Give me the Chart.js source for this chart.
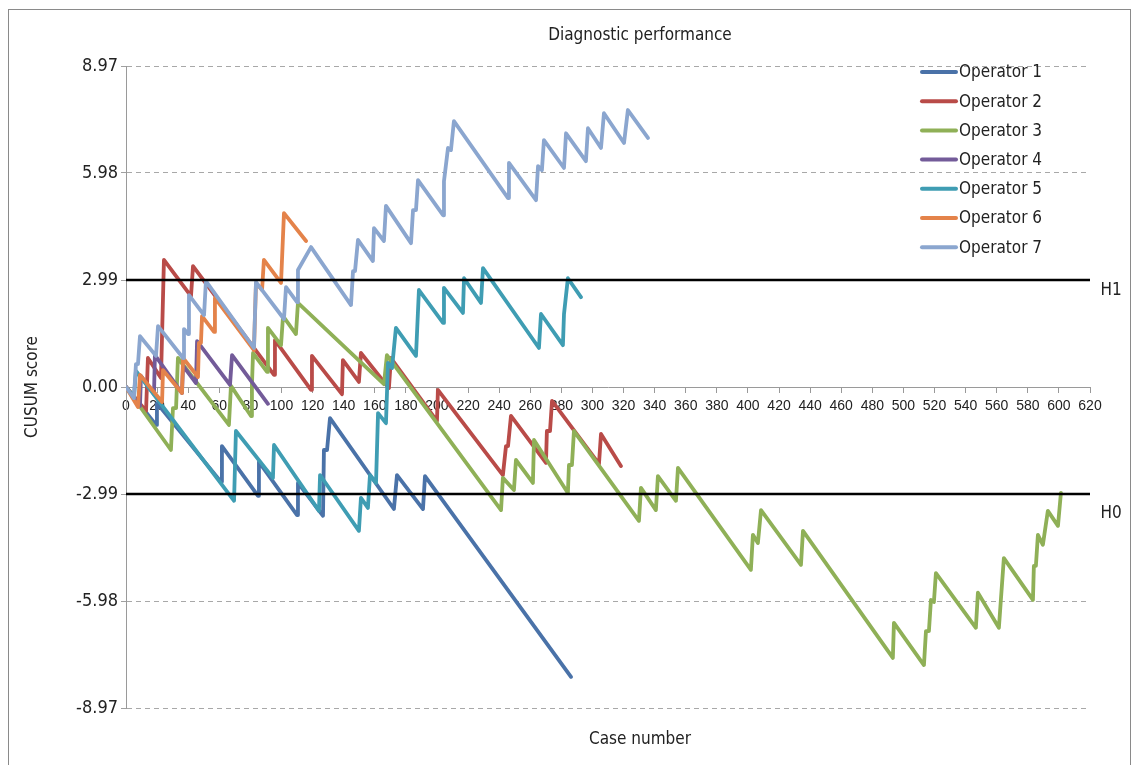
<!DOCTYPE html>
<html>
<head>
<meta charset="utf-8">
<title>Diagnostic performance</title>
<script src="https://cdn.jsdelivr.net/npm/chart.js@4.4.1/dist/chart.umd.min.js"></script>
<style>
    html, body { margin: 0; padding: 0; background: #fff; overflow: hidden; }
    #wrap { position: relative; width: 1137px; height: 765px; }
    #grafico { position: absolute; left: 0; top: 0; }
    #moldura { position: absolute; left: 8px; top: 9px; width: 1123px; height: 800px; border: 1.5px solid #8a8a8a; box-sizing: border-box; pointer-events: none; }
</style>
</head>
<body>
<div id="wrap">
    <canvas id="grafico" width="1137" height="765"></canvas>
    <div id="moldura"></div>
</div>
<script>
// Dados (número do caso, escore CUSUM) nos vértices de cada operador
const operadores = ['Operator 1', 'Operator 2', 'Operator 3', 'Operator 4', 'Operator 5', 'Operator 6', 'Operator 7'];
const cores = ['#4a72a8', '#b94b48', '#8fb057', '#735b99', '#3f9db3', '#e4834a', '#8ba6cf'];

const op1Casos = [0, 19.3, 19.9, 61.1, 61.7, 84.9, 85.5, 110.0, 110.6, 126.7, 127.3, 129.3, 131.2, 172.3, 174.3, 191.0, 192.3, 286.2];
const op1Cusum = [0, -1.06, -0.45, -2.65, -1.65, -3.04, -2.09, -3.58, -2.68, -3.60, -1.76, -1.76, -0.87, -3.41, -2.46, -3.41, -2.49, -8.10];

const op2Casos = [0, 12.9, 14.1, 22.5, 24.4, 41.8, 43.1, 95.2, 95.8, 119.0, 119.6, 138.9, 139.5, 149.8, 151.1, 169.1, 170.4, 200.0, 200.6, 242.4, 244.4, 245.7, 247.6, 270.1, 270.7, 272.7, 274.0, 304.2, 305.5, 318.3];
const op2Cusum = [0, -0.67, 0.81, 0.25, 3.55, 2.54, 3.38, 0.34, 1.31, -0.08, 0.87, -0.20, 0.75, 0.14, 0.95, -0.03, 0.81, -0.95, -0.08, -2.46, -1.65, -1.65, -0.81, -2.12, -1.23, -1.23, -0.39, -2.15, -1.31, -2.21];

const op3Casos = [0, 28.9, 30.2, 32.2, 33.4, 66.2, 67.5, 80.4, 81.0, 81.7, 90.7, 91.3, 99.7, 101.0, 109.3, 110.6, 165.9, 167.8, 241.2, 242.4, 249.5, 250.8, 261.7, 262.4, 284.2, 284.9, 286.8, 288.1, 329.9, 331.2, 340.8, 342.1, 353.7, 355.0, 401.9, 403.2, 406.4, 408.4, 434.1, 435.4, 493.2, 493.9, 513.2, 514.5, 516.4, 517.7, 519.6, 520.9, 546.6, 547.9, 561.4, 564.6, 583.3, 583.9, 585.2, 586.5, 589.7, 592.9, 599.4, 601.3];
const op3Cusum = [0, -1.76, -0.59, -0.59, 0.81, -1.06, 0.03, -0.81, 0.06, 0.95, 0.42, 1.65, 1.17, 1.98, 1.48, 2.35, 0.08, 0.89, -3.44, -2.54, -2.88, -2.04, -2.68, -1.48, -2.96, -2.18, -2.18, -1.23, -3.74, -2.82, -3.44, -2.49, -3.18, -2.26, -5.11, -4.13, -4.36, -3.44, -4.97, -4.02, -7.57, -6.59, -7.77, -6.82, -6.82, -5.95, -6.01, -5.20, -6.73, -5.75, -6.73, -4.78, -5.95, -5.00, -5.00, -4.13, -4.41, -3.46, -3.88, -2.96];

const op4Casos = [0, 9.0, 9.6, 18.0, 18.6, 36.0, 36.7, 45.0, 45.7, 66.9, 68.2, 91.3];
const op4Cusum = [0, -0.53, 0.31, -0.20, 0.89, -0.17, 0.59, 0.11, 1.28, 0.06, 0.89, -0.47];

const op5Casos = [0, 5.1, 6.4, 69.5, 70.7, 94.5, 95.2, 124.1, 124.8, 149.8, 151.1, 155.6, 156.9, 160.8, 162.1, 167.2, 168.5, 171.1, 173.6, 186.5, 188.4, 203.9, 204.5, 216.7, 217.4, 228.3, 229.6, 265.6, 266.9, 281.0, 281.7, 284.2, 292.6];
const op5Cusum = [0, -0.28, 0.45, -3.18, -1.23, -2.54, -1.62, -3.46, -2.46, -4.02, -3.10, -3.38, -2.46, -2.68, -0.73, -1.01, 0.67, 0.53, 1.65, 0.87, 2.71, 1.79, 2.77, 2.07, 3.04, 2.35, 3.32, 1.09, 2.04, 1.17, 2.04, 3.04, 2.51];

const op6Casos = [0, 7.7, 9.0, 23.2, 23.8, 36.0, 36.7, 46.3, 46.9, 48.2, 48.9, 56.6, 57.2, 82.3, 83.6, 87.5, 88.7, 99.7, 101.6, 115.8];
const op6Cusum = [0, -0.56, 0.34, -0.42, 0.47, -0.17, 0.81, 0.28, 1.23, 1.23, 1.98, 1.54, 2.49, 1.03, 2.91, 2.71, 3.55, 2.91, 4.86, 4.08];

const op7Casos = [0, 5.1, 6.4, 7.7, 9.0, 19.3, 20.6, 36.7, 37.3, 39.9, 40.5, 50.2, 51.4, 82.3, 83.6, 101.6, 102.9, 110.0, 110.6, 119.0, 144.7, 146.0, 147.3, 149.2, 158.8, 159.5, 165.9, 167.2, 183.3, 184.6, 186.5, 187.8, 203.9, 204.5, 207.1, 209.0, 210.9, 245.7, 246.3, 263.7, 265.0, 267.5, 268.8, 281.7, 283.0, 295.8, 297.1, 305.5, 307.4, 320.3, 322.8, 335.7];
const op7Cusum = [0, -0.31, 0.64, 0.64, 1.42, 0.87, 1.70, 0.81, 1.62, 1.48, 2.57, 2.01, 2.96, 1.09, 2.93, 1.90, 2.79, 2.37, 3.27, 3.91, 2.29, 3.24, 3.24, 4.11, 3.52, 4.44, 4.08, 5.06, 4.02, 4.94, 4.94, 5.78, 4.80, 5.75, 6.68, 6.62, 7.43, 5.28, 6.26, 5.22, 6.17, 6.06, 6.90, 6.12, 7.09, 6.31, 7.23, 6.68, 7.65, 6.82, 7.74, 6.96];

// Eixos e limites
const yTicks = [-8.97, -5.98, -2.99, 0, 2.99, 5.98, 8.97];
const limiteH1 = 2.99;
const limiteH0 = -2.99;
const xMin = 0, xMax = 620, xPasso = 20;

const fonteTexto = "'DejaVu Sans Condensed', 'Liberation Sans Narrow', sans-serif";
const fonteNumeros = "'Liberation Sans', Arial, sans-serif";

const casosPorOperador = [op1Casos, op2Casos, op3Casos, op4Casos, op5Casos, op6Casos, op7Casos];
const cusumPorOperador = [op1Cusum, op2Cusum, op3Cusum, op4Cusum, op5Cusum, op6Cusum, op7Cusum];

function pontos(casos, valores) {
    const n = Math.min(casos.length, valores.length);
    const lista = [];
    for (let i = 0; i < n; i++) lista.push({ x: casos[i], y: valores[i] });
    return lista;
}

const datasets = operadores.map((nome, i) => ({
    label: nome,
    data: pontos(casosPorOperador[i], cusumPorOperador[i]),
    borderColor: cores[i],
    backgroundColor: cores[i],
    borderWidth: 3.8,
    borderJoinStyle: 'round',
    borderCapStyle: 'round',
    pointRadius: 0,
    tension: 0,
    order: 10 - i
}));

// Linhas de decisão H1 e H0
[['H1', limiteH1], ['H0', limiteH0]].forEach(([nome, valor]) => {
    datasets.push({
        label: nome,
        data: [{ x: xMin, y: valor }, { x: xMax, y: valor }],
        borderColor: '#000',
        borderWidth: 2.5,
        pointRadius: 0,
        order: 0
    });
});

// Plugin para títulos, rótulos H1/H0 e legenda dentro da área do gráfico
const textosExtras = {
    id: 'textosExtras',
    afterDraw(chart) {
        const { ctx, chartArea, scales } = chart;
        ctx.save();
        ctx.fillStyle = '#222';
        ctx.font = `17px ${fonteTexto}`;
        ctx.textAlign = 'center';
        ctx.textBaseline = 'middle';
        const centro = (chartArea.left + chartArea.right) / 2 + 32;
        ctx.fillText('Diagnostic performance', centro, chartArea.top - 30);
        ctx.fillText('Case number', centro, chartArea.bottom + 32);
        ctx.fillText('H1', chartArea.right + 21, scales.y.getPixelForValue(limiteH1) + 11);
        ctx.fillText('H0', chartArea.right + 21, scales.y.getPixelForValue(limiteH0) + 20);

        ctx.textAlign = 'left';
        operadores.forEach((nome, i) => {
            const y = chartArea.top + 6 + i * 29.2;
            ctx.strokeStyle = cores[i];
            ctx.lineWidth = 4;
            ctx.lineCap = 'round';
            ctx.beginPath();
            ctx.moveTo(chartArea.right - 168, y);
            ctx.lineTo(chartArea.right - 134, y);
            ctx.stroke();
            ctx.fillText(nome, chartArea.right - 131, y + 1);
        });
        ctx.restore();
    }
};

new Chart(document.getElementById('grafico').getContext('2d'), {
    type: 'line',
    data: { datasets: datasets },
    options: {
        responsive: false,
        animation: false,
        devicePixelRatio: 1,
        layout: { padding: { top: 66, bottom: 57, left: 22, right: 47 } },
        plugins: {
            legend: { display: false },
            title: { display: false },
            tooltip: { enabled: false }
        },
        scales: {
            x: {
                type: 'linear',
                position: { y: 0 },
                min: xMin, max: xMax,
                ticks: {
                    stepSize: xPasso, autoSkip: false, maxRotation: 0,
                    color: '#222', font: { family: fonteNumeros, size: 14 }, padding: 6
                },
                grid: { drawOnChartArea: false, drawTicks: true, tickLength: 5, tickColor: '#999' },
                border: { color: '#9a9a9a', width: 1 }
            },
            y: {
                type: 'linear',
                min: yTicks[0], max: yTicks[yTicks.length - 1],
                afterBuildTicks: (axis) => { axis.ticks = yTicks.map(v => ({ value: v })); },
                afterFit: (axis) => { axis.width = 104; },
                ticks: {
                    callback: (v) => Number(v).toFixed(2),
                    color: '#222', font: { family: fonteTexto, size: 18 }, padding: 3
                },
                grid: {
                    color: (c) => (c.tick && c.tick.value === 0) ? 'rgba(0,0,0,0)' : '#a8a8a8',
                    lineWidth: 1, tickLength: 5, tickColor: '#a0a0a0'
                },
                border: { color: '#9a9a9a', width: 1, dash: [5, 4] },
                title: {
                    display: true, text: 'CUSUM score', color: '#222',
                    font: { family: fonteTexto, size: 17 }, padding: { top: 0, bottom: 0 }
                }
            }
        }
    },
    plugins: [textosExtras]
});
</script>
</body>
</html>
